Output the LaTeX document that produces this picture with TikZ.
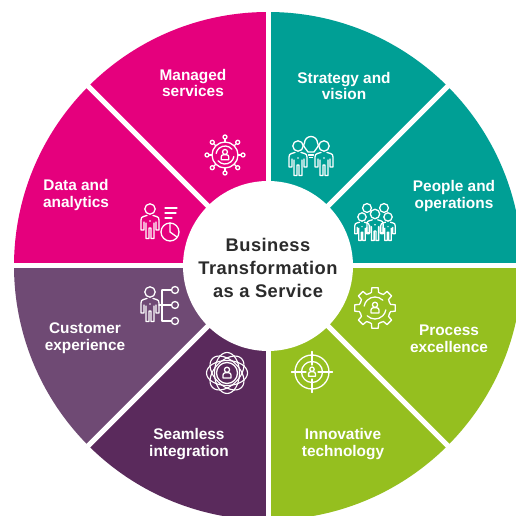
\documentclass[tikz,border=0pt]{standalone}
\usepackage{fontspec}
\setmainfont{Liberation Sans}
\definecolor{cPink}{HTML}{E5007D}
\definecolor{cTeal}{HTML}{009F95}
\definecolor{cGreen}{HTML}{95BF1F}
\definecolor{cMauve}{HTML}{6F4A74}
\definecolor{cPlum}{HTML}{5A2A5C}
\definecolor{cInk}{HTML}{2B2B2B}
\newfontfamily\hubfont[LetterSpace=2.5]{Liberation Sans}
\tikzset{
  x=1pt,y=1pt,
  seglabel/.style={text=white,font=\fontsize{15.4}{16.5}\selectfont\bfseries,align=center,inner sep=0},
  hublabel/.style={text=cInk,font=\hubfont\fontsize{18.3}{23}\selectfont\bfseries,align=center,inner sep=0},
  icon/.style={draw=white,line width=1.3pt,line join=round,line cap=round},
  person/.pic={
    \draw[icon] (0,0) circle (5.2);
    \draw[icon] (-3,-6.5) -- (-6.5,-7.5) to[out=180,in=90] (-9,-11) -- (-9,-21) -- (-6,-21) -- (-6,-13)
       (-4,-14) -- (-4,-29.5) -- (-1,-29.5) -- (-1,-19) -- (1,-19) -- (1,-29.5) -- (4,-29.5) -- (4,-14)
       (6,-13) -- (6,-21) -- (9,-21) -- (9,-11) to[out=90,in=0] (6.5,-7.5) -- (3,-6.5);
    \fill[white] (0,-12) circle (.9);
  },
  miniperson/.pic={
    \draw[icon] (0,3.2) circle (2.6);
    \draw[icon] (-4,-5) -- (-4,-2) to[out=90,in=180] (-1.5,.3) -- (1.5,.3) to[out=0,in=90] (4,-2) -- (4,-5) -- cycle;
  }
}
\begin{document}
\begin{tikzpicture}
\useasboundingbox (0,0) rectangle (516,516);
\clip (0,0) rectangle (516,516);
\fill[white] (0,0) rectangle (516,516);
\coordinate (hub) at (268,250);
% sectors
\fill[cTeal]  (hub) -- ++(0,254) arc[start angle=90,end angle=0,radius=254pt] -- cycle;
\fill[cGreen] (hub) -- ++(254,0) arc[start angle=0,end angle=-90,radius=254pt] -- cycle;
\fill[cPlum]  (hub) -- ++(0,-254) arc[start angle=-90,end angle=-135,radius=254pt] -- cycle;
\fill[cMauve] (hub) -- ++(225:254) arc[start angle=225,end angle=180,radius=254pt] -- cycle;
\fill[cPink]  (hub) -- ++(-254,0) arc[start angle=180,end angle=90,radius=254pt] -- cycle;
% dividers
\foreach \a in {0,45,...,315}{\draw[white,line width=5pt] (hub) -- ++(\a:258);}
\fill[white] (hub) circle (85);
% hub label
\node[hublabel] (hubtext) at (268,248.5) {Business\\Transformation\\as a Service};
% segment labels
\node[seglabel] (l1) at (193,433) {Managed\\services};
\node[seglabel] (l2) at (344,430) {Strategy and\\vision};
\node[seglabel] (l3) at (454,320) {People and\\operations};
\node[seglabel] (l4) at (449,177) {Process\\excellence};
\node[seglabel] (l5) at (343,72) {Innovative\\technology};
\node[seglabel] (l6) at (189,72) {Seamless\\integration};
\node[seglabel] (l7) at (85,178) {Customer\\experience};
\node[seglabel] (l8) at (76,321) {Data and\\analytics};
% managed services icon
\begin{scope}[shift={(225,361)}]
  \draw[icon] (0,0) circle (13);
  \draw[icon] (40:9) arc[start angle=40,end angle=170,radius=9pt];
  \draw[icon] (220:9) arc[start angle=220,end angle=350,radius=9pt];
  \foreach \a in {0,45,...,315}{\draw[icon] (\a:13) -- (\a:16); \draw[icon] (\a:18) circle (2);}
  \pic[scale=.95] {miniperson};
\end{scope}
% strategy icon
\pic at (298,370) {person};
\pic at (324,370) {person};
\draw[icon] (308,364) to[out=120,in=225] (304.5,373) arc[start angle=180,end angle=-0,radius=6.5pt] to[out=-45,in=60] (314,364) -- cycle;
\draw[icon] (308.5,361) -- (313.5,361) (309.5,358.5) -- (312.5,358.5);
% people icon
\draw[icon] (367,308) circle (4.4) (384,308) circle (4.4);
\pic[scale=.8] at (362,299) {person};
\pic[scale=.8] at (388,299) {person};
\pic[scale=.9] at (375,302) {person};
% data icon
\pic at (150,307) {person};
\draw[icon] (165,308) -- (177,308) (165,303) -- (176,303) (165,298) -- (172,298);
\draw[icon] (170,284) circle (9);
\draw[icon] (170,293) -- (170,284) -- (177,279);
% customer icon
\pic at (150,224) {person};
\draw[icon] (159,211) -- (162,211) (162,226) -- (162,195) (162,226) -- (171.5,226) (162,211) -- (171.5,211) (162,195) -- (171.5,195);
\draw[icon] (175,226) circle (3.5) (175,211) circle (3.5) (175,195) circle (3.5);
% seamless icon
\begin{scope}[shift={(227,143)}]
  \foreach \a in {0,45,90,135}{\draw[icon,line width=1.15pt,rotate=\a] (0,0) ellipse (20.5 and 12.5);}
  \fill[cPlum] (0,0) circle (10.5);
  \draw[icon] (0,0) circle (10.5);
  \pic {miniperson};
\end{scope}
% gear icon
\begin{scope}[shift={(375,208)}]
  \foreach \a in {0,45,...,315}{
    \draw[icon] (\a-22.5:15.5) -- (\a-13:16) -- (\a-9:20.5) -- (\a+9:20.5) -- (\a+13:16) -- (\a+22.5:15.5);
  }
  \draw[icon] (45:11) arc[start angle=45,end angle=170,radius=11pt];
  \draw[icon] (225:11) arc[start angle=225,end angle=350,radius=11pt];
  \pic {miniperson};
\end{scope}
% target icon
\begin{scope}[shift={(312,144)}]
  \draw[icon] (0,0) circle (17) (0,0) circle (10.5);
  \draw[icon] (-20.5,0) -- (-6,0) (6,0) -- (20.5,0) (0,20.5) -- (0,7) (0,-7) -- (0,-20.5);
  \pic[scale=.85] {miniperson};
\end{scope}
\end{tikzpicture}
\end{document}
